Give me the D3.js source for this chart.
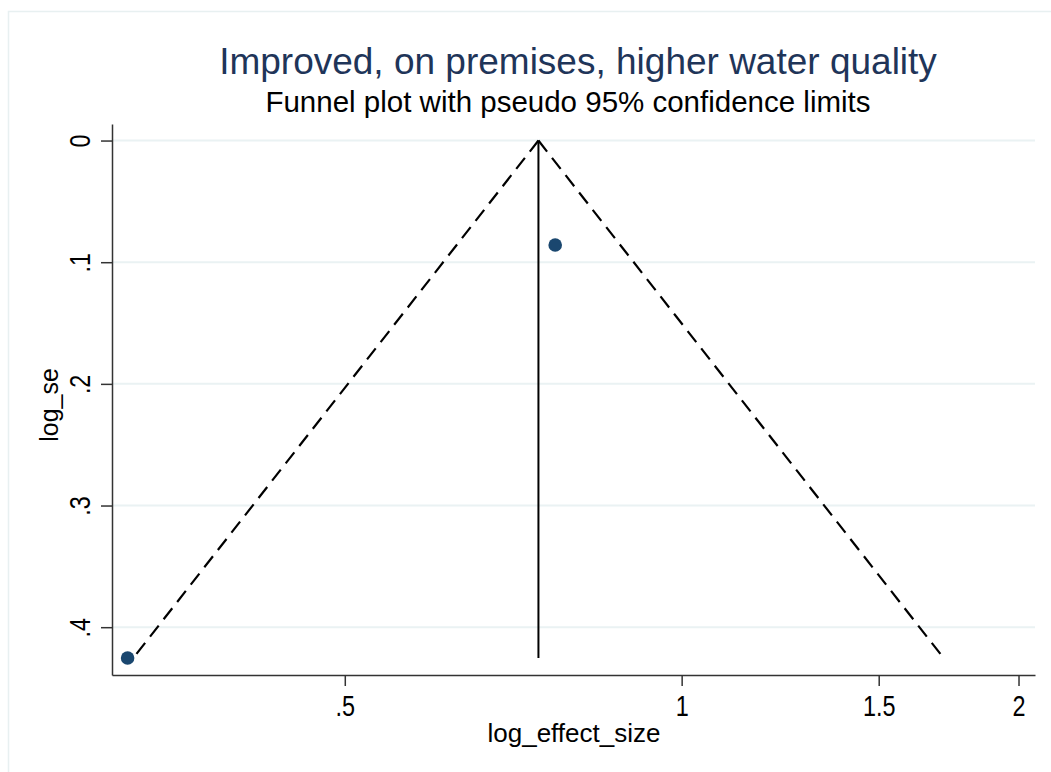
<!DOCTYPE html>
<html>
<head>
<meta charset="utf-8">
<script src="https://cdn.jsdelivr.net/npm/d3@7"></script>
<style>
  body { margin: 0; background: #fff; }
  svg { display: block; font-family: "Liberation Sans", Arial, sans-serif; }
</style>
</head>
<body>
<div id="chart"></div>
<script>
// study estimates (effect size, standard error)
const studyEffects = [0.7709, 0.3198];
const studySE = [0.0859, 0.4253];
const xTickValues = [0.5, 1, 1.5, 2];
const xTickLabels = ['.5', '1', '1.5', '2'];
const yTickValues = [0, 0.1, 0.2, 0.3, 0.4];
const yTickLabels = ['0', '.1', '.2', '.3', '.4'];

const width = 1051, height = 772;
const plot = { left: 112, right: 1035, top: 124, bottom: 675 };
const FONT = '"Liberation Sans", Arial, sans-serif';

const svg = d3.select('#chart').append('svg')
    .attr('width', width)
    .attr('height', height);

// outer graph region border
svg.append('rect')
    .attr('x', 8.5).attr('y', 11.5)
    .attr('width', width + 20).attr('height', height + 20)
    .attr('fill', 'none')
    .attr('stroke', '#e8f0f1')
    .attr('stroke-width', 1.5);

const x = d3.scaleLog()
    .domain([0.3097, 2.069])
    .range([plot.left, plot.right]);

const y = d3.scaleLinear()
    .domain([-0.0136, 0.4393])
    .range([plot.top, plot.bottom]);

// gridlines
svg.append('g')
    .selectAll('line')
    .data(yTickValues)
    .join('line')
    .attr('x1', plot.left).attr('x2', plot.right)
    .attr('y1', d => y(d)).attr('y2', d => y(d))
    .attr('stroke', '#eaf2f3')
    .attr('stroke-width', 2);

// fixed-effect pooled estimate on log scale
const logEff = studyEffects.map(Math.log);
const weights = studySE.map(s => 1 / (s * s));
const pooled = d3.sum(logEff.map((v, i) => v * weights[i])) / d3.sum(weights);
const maxSE = d3.max(studySE);

const funnelLeft = [[0, pooled], [maxSE, pooled - 1.96 * maxSE]];
const funnelRight = [[0, pooled], [maxSE, pooled + 1.96 * maxSE]];

const line = d3.line()
    .x(d => x(Math.exp(d[1])))
    .y(d => y(d[0]));

[funnelLeft, funnelRight].forEach(seg => {
    svg.append('path')
        .attr('d', line(seg))
        .attr('fill', 'none')
        .attr('stroke', '#000')
        .attr('stroke-width', 2.2)
        .attr('stroke-dasharray', '14,8');
});

// pooled estimate line
svg.append('path')
    .attr('d', line([[0, pooled], [maxSE, pooled]]))
    .attr('fill', 'none')
    .attr('stroke', '#000')
    .attr('stroke-width', 2);

// study points
svg.append('g')
    .selectAll('circle')
    .data(studyEffects)
    .join('circle')
    .attr('cx', d => x(d))
    .attr('cy', (d, i) => y(studySE[i]))
    .attr('r', 6.8)
    .attr('fill', '#1a476f');

// axes
const xAxis = d3.axisBottom(x)
    .tickValues(xTickValues)
    .tickFormat((d, i) => xTickLabels[i])
    .tickSize(11)
    .tickSizeOuter(0)
    .tickPadding(9);

const gx = svg.append('g')
    .attr('transform', `translate(0,${plot.bottom})`)
    .call(xAxis);
gx.select('.domain').attr('stroke', '#333').attr('stroke-width', 1.5);
gx.selectAll('.tick line').attr('stroke', '#333').attr('stroke-width', 1.5);
gx.selectAll('.tick text')
    .attr('font-size', 30)
    .attr('fill', '#000')
    .attr('font-family', FONT)
    .attr('transform', 'scale(0.78,1)');

const yAxis = d3.axisLeft(y)
    .tickValues(yTickValues)
    .tickFormat((d, i) => yTickLabels[i])
    .tickSize(11)
    .tickSizeOuter(0);

const gy = svg.append('g')
    .attr('transform', `translate(${plot.left},0)`)
    .call(yAxis);
gy.select('.domain').attr('stroke', '#333').attr('stroke-width', 1.5);
gy.selectAll('.tick line').attr('stroke', '#333').attr('stroke-width', 1.5);
gy.selectAll('.tick text')
    .attr('font-size', 30)
    .attr('fill', '#000')
    .attr('font-family', FONT)
    .attr('x', 0)
    .attr('dy', 0)
    .attr('text-anchor', 'middle')
    .attr('transform', 'translate(-22,0) rotate(-90) scale(0.78,1)');

// titles
svg.append('text')
    .attr('x', 578).attr('y', 74)
    .attr('text-anchor', 'middle')
    .attr('font-size', 37)
    .attr('fill', '#1f3559')
    .text('Improved, on premises, higher water quality');

svg.append('text')
    .attr('x', 568).attr('y', 112)
    .attr('text-anchor', 'middle')
    .attr('font-size', 29.5)
    .attr('fill', '#000')
    .text('Funnel plot with pseudo 95% confidence limits');

svg.append('text')
    .attr('x', 574).attr('y', 742)
    .attr('text-anchor', 'middle')
    .attr('font-size', 26)
    .attr('fill', '#000')
    .text('log_effect_size');

svg.append('text')
    .attr('transform', 'translate(58,405) rotate(-90)')
    .attr('text-anchor', 'middle')
    .attr('font-size', 25)
    .attr('fill', '#000')
    .text('log_se');
</script>
</body>
</html>
